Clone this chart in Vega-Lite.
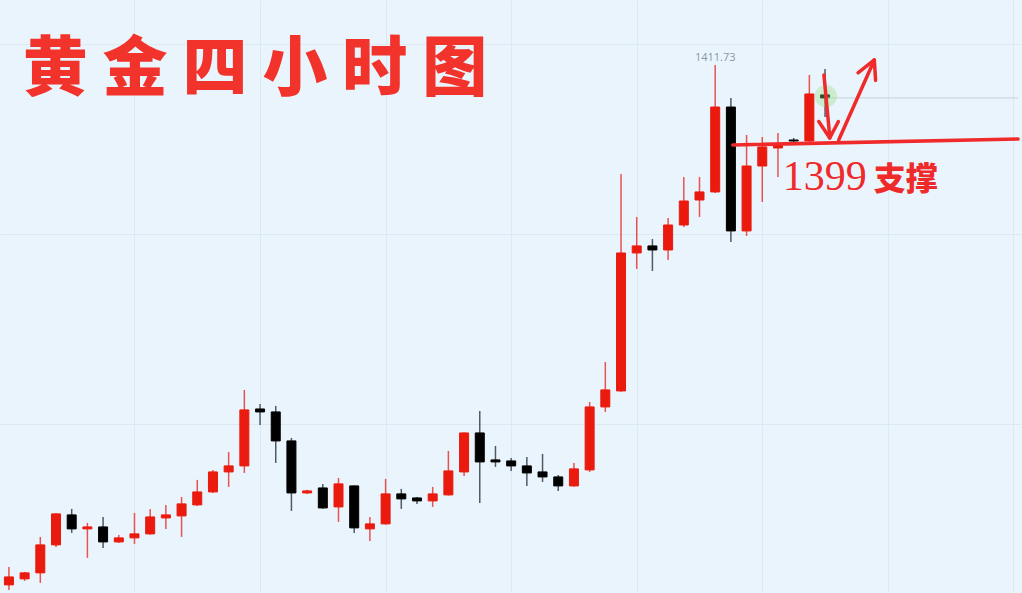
{
  "$schema": "https://vega.github.io/schema/vega-lite/v6.json",
  "width": 1022,
  "height": 593,
  "autosize": {"type": "fit", "contains": "padding"},
  "padding": 0,
  "background": "#eaf4fc",
  "config": {"view": {"stroke": null}},
  "datasets": {
    "candles": [
      {"i": 1, "o": 1329.58, "c": 1330.84, "h": 1332.42, "l": 1328.79},
      {"i": 2, "o": 1330.53, "c": 1331.48, "h": 1331.64, "l": 1330.21},
      {"i": 3, "o": 1331.48, "c": 1335.90, "h": 1337.16, "l": 1329.90},
      {"i": 4, "o": 1335.90, "c": 1340.80, "h": 1340.96, "l": 1335.58},
      {"i": 5, "o": 1340.64, "c": 1338.43, "h": 1341.59, "l": 1337.80},
      {"i": 6, "o": 1338.43, "c": 1338.74, "h": 1339.38, "l": 1333.85},
      {"i": 7, "o": 1338.74, "c": 1336.37, "h": 1340.32, "l": 1335.43},
      {"i": 8, "o": 1336.37, "c": 1337.01, "h": 1337.48, "l": 1336.21},
      {"i": 9, "o": 1337.01, "c": 1337.64, "h": 1340.96, "l": 1336.06},
      {"i": 10, "o": 1337.64, "c": 1340.32, "h": 1341.59, "l": 1337.50},
      {"i": 11, "o": 1340.16, "c": 1340.64, "h": 1342.22, "l": 1338.43},
      {"i": 12, "o": 1340.48, "c": 1342.38, "h": 1343.48, "l": 1337.16},
      {"i": 13, "o": 1342.22, "c": 1344.27, "h": 1346.17, "l": 1342.05},
      {"i": 14, "o": 1344.27, "c": 1347.43, "h": 1347.75, "l": 1344.10},
      {"i": 15, "o": 1347.43, "c": 1348.38, "h": 1350.59, "l": 1345.06},
      {"i": 16, "o": 1348.38, "c": 1357.23, "h": 1360.39, "l": 1347.27},
      {"i": 17, "o": 1357.38, "c": 1356.91, "h": 1358.18, "l": 1354.86},
      {"i": 18, "o": 1356.91, "c": 1352.33, "h": 1357.86, "l": 1348.85},
      {"i": 19, "o": 1352.33, "c": 1344.11, "h": 1352.80, "l": 1341.27},
      {"i": 20, "o": 1344.11, "c": 1344.43, "h": 1344.60, "l": 1343.95},
      {"i": 21, "o": 1344.90, "c": 1341.74, "h": 1345.54, "l": 1341.60},
      {"i": 22, "o": 1341.90, "c": 1345.54, "h": 1346.48, "l": 1339.53},
      {"i": 23, "o": 1345.22, "c": 1338.59, "h": 1345.30, "l": 1337.80},
      {"i": 24, "o": 1338.43, "c": 1339.22, "h": 1340.32, "l": 1336.53},
      {"i": 25, "o": 1339.22, "c": 1343.96, "h": 1346.33, "l": 1339.10},
      {"i": 26, "o": 1343.96, "c": 1343.17, "h": 1344.75, "l": 1341.59},
      {"i": 27, "o": 1343.32, "c": 1342.85, "h": 1343.48, "l": 1342.38},
      {"i": 28, "o": 1342.85, "c": 1343.96, "h": 1345.06, "l": 1341.90},
      {"i": 29, "o": 1343.80, "c": 1347.59, "h": 1350.75, "l": 1343.70},
      {"i": 30, "o": 1347.43, "c": 1353.59, "h": 1353.70, "l": 1346.80},
      {"i": 31, "o": 1353.59, "c": 1349.01, "h": 1357.07, "l": 1342.53},
      {"i": 32, "o": 1349.33, "c": 1349.01, "h": 1351.54, "l": 1348.22},
      {"i": 33, "o": 1349.17, "c": 1348.38, "h": 1349.64, "l": 1347.59},
      {"i": 34, "o": 1348.38, "c": 1347.27, "h": 1349.80, "l": 1345.22},
      {"i": 35, "o": 1347.43, "c": 1346.64, "h": 1350.28, "l": 1345.85},
      {"i": 36, "o": 1346.64, "c": 1345.22, "h": 1346.96, "l": 1344.43},
      {"i": 37, "o": 1345.22, "c": 1347.91, "h": 1348.85, "l": 1345.10},
      {"i": 38, "o": 1347.75, "c": 1357.70, "h": 1358.49, "l": 1347.43},
      {"i": 39, "o": 1357.70, "c": 1360.39, "h": 1364.81, "l": 1356.91},
      {"i": 40, "o": 1360.23, "c": 1382.03, "h": 1394.51, "l": 1360.10},
      {"i": 41, "o": 1382.03, "c": 1383.14, "h": 1387.72, "l": 1379.50},
      {"i": 42, "o": 1383.14, "c": 1382.50, "h": 1384.24, "l": 1379.19},
      {"i": 43, "o": 1382.50, "c": 1386.45, "h": 1387.56, "l": 1380.92},
      {"i": 44, "o": 1386.45, "c": 1390.24, "h": 1394.04, "l": 1386.14},
      {"i": 45, "o": 1390.40, "c": 1391.67, "h": 1394.04, "l": 1387.72},
      {"i": 46, "o": 1391.67, "c": 1405.09, "h": 1411.73, "l": 1391.50},
      {"i": 47, "o": 1405.09, "c": 1385.51, "h": 1406.52, "l": 1383.77},
      {"i": 48, "o": 1385.51, "c": 1395.77, "h": 1400.67, "l": 1384.72},
      {"i": 49, "o": 1395.77, "c": 1398.78, "h": 1400.36, "l": 1390.09},
      {"i": 50, "o": 1398.62, "c": 1399.09, "h": 1400.99, "l": 1394.04},
      {"i": 51, "o": 1399.88, "c": 1399.72, "h": 1400.20, "l": 1399.41},
      {"i": 52, "o": 1399.72, "c": 1407.15, "h": 1410.15, "l": 1399.60},
      {"i": 53, "o": 1407.00, "c": 1406.52, "h": 1411.10, "l": 1403.52}
    ],
    "strokes": [
      {"x": 47.12, "y": 1399.09, "x2": 65.3, "y2": 1400.04},
      {"x": 52.93, "y": 1410.15, "x2": 53.30, "y2": 1400.36},
      {"x": 52.60, "y": 1402.80, "x2": 53.30, "y2": 1400.20},
      {"x": 53.85, "y": 1402.80, "x2": 53.30, "y2": 1400.20},
      {"x": 53.87, "y": 1399.88, "x2": 56.14, "y2": 1412.52},
      {"x": 55.10, "y": 1410.50, "x2": 56.14, "y2": 1412.52},
      {"x": 56.22, "y": 1409.30, "x2": 56.14, "y2": 1412.52}
    ],
    "last": [{"x": 53, "y": 1406.52, "x2": 65.3, "y2": 1406.52}],
    "peak": [{"i": 46, "p": 1411.73, "t": "1411.73"}],
    "title": [{"i": 1.88, "p": 1410.94, "t": "黄 金 四 小 时 图"}],
    "lbl1": [{"i": 50.30, "p": 1391.98, "t": "1399"}],
    "lbl2": [{"i": 56.10, "p": 1391.98, "t": "支撑"}]
  },
  "layer": [
    {
      "data": {"name": "candles"},
      "mark": {"type": "rule", "strokeWidth": 1.5},
      "encoding": {
        "x": {"field": "i", "type": "quantitative",
              "scale": {"domain": [0.75, 65.23], "nice": false, "zero": false},
              "axis": {"values": [9, 17, 25, 33, 41, 49, 57, 65], "grid": true, "gridColor": "#dce8f2", "gridWidth": 1, "labels": false, "ticks": false, "domain": false, "title": null}},
        "y": {"field": "l", "type": "quantitative",
              "scale": {"domain": [1328.3, 1422.0], "nice": false, "zero": false},
              "axis": {"values": [1355, 1385, 1415], "grid": true, "gridColor": "#dce8f2", "gridWidth": 1, "labels": false, "ticks": false, "domain": false, "title": null}},
        "y2": {"field": "h"},
        "color": {"condition": {"test": "datum.c >= datum.o", "value": "#e8534f"}, "value": "#4f5a66"}
      }
    },
    {
      "data": {"name": "candles"},
      "mark": {"type": "bar", "size": 9, "strokeWidth": 1},
      "encoding": {
        "x": {"field": "i", "type": "quantitative"},
        "y": {"field": "o", "type": "quantitative"},
        "y2": {"field": "c"},
        "color": {"condition": {"test": "datum.c >= datum.o", "value": "#ea1a0e"}, "value": "#000000"},
        "stroke": {"condition": {"test": "datum.c >= datum.o", "value": "#ea1a0e"}, "value": "#000000"}
      }
    },
    {
      "data": {"name": "last"},
      "mark": {"type": "rule", "strokeWidth": 1, "color": "#c5d0da"},
      "encoding": {
        "x": {"field": "x", "type": "quantitative"},
        "x2": {"field": "x2"},
        "y": {"field": "y", "type": "quantitative"},
        "y2": {"field": "y2"}
      }
    },
    {
      "data": {"name": "peak"},
      "mark": {"type": "point", "filled": true, "shape": "circle", "size": 500, "color": "#8ee07e", "opacity": 0.35},
      "encoding": {
        "x": {"datum": 53.05, "type": "quantitative"},
        "y": {"datum": 1406.8, "type": "quantitative"}
      }
    },
    {
      "data": {"name": "strokes"},
      "mark": {"type": "rule", "strokeWidth": 3.5, "color": "#f02a2a", "strokeCap": "round"},
      "encoding": {
        "x": {"field": "x", "type": "quantitative"},
        "x2": {"field": "x2"},
        "y": {"field": "y", "type": "quantitative"},
        "y2": {"field": "y2"}
      }
    },
    {
      "data": {"name": "peak"},
      "mark": {"type": "text", "fontSize": 11, "color": "#8a96a3", "font": "Open Sans", "baseline": "bottom", "dy": -2},
      "encoding": {
        "x": {"field": "i", "type": "quantitative"},
        "y": {"field": "p", "type": "quantitative"},
        "text": {"field": "t"}
      }
    },
    {
      "data": {"name": "title"},
      "mark": {"type": "text", "fontSize": 65, "fontWeight": 900, "color": "#f2332b", "font": "Noto Sans CJK SC", "align": "left", "baseline": "middle"},
      "encoding": {
        "x": {"field": "i", "type": "quantitative"},
        "y": {"field": "p", "type": "quantitative"},
        "text": {"field": "t"}
      }
    },
    {
      "data": {"name": "lbl1"},
      "mark": {"type": "text", "fontSize": 42, "color": "#ee2a2a", "font": "Liberation Serif", "align": "left", "baseline": "alphabetic"},
      "encoding": {
        "x": {"field": "i", "type": "quantitative"},
        "y": {"field": "p", "type": "quantitative"},
        "text": {"field": "t"}
      }
    },
    {
      "data": {"name": "lbl2"},
      "mark": {"type": "text", "fontSize": 32, "fontWeight": 900, "color": "#ee2a2a", "font": "Noto Sans CJK SC", "align": "left", "baseline": "alphabetic"},
      "encoding": {
        "x": {"field": "i", "type": "quantitative"},
        "y": {"field": "p", "type": "quantitative"},
        "text": {"field": "t"}
      }
    }
  ]
}
